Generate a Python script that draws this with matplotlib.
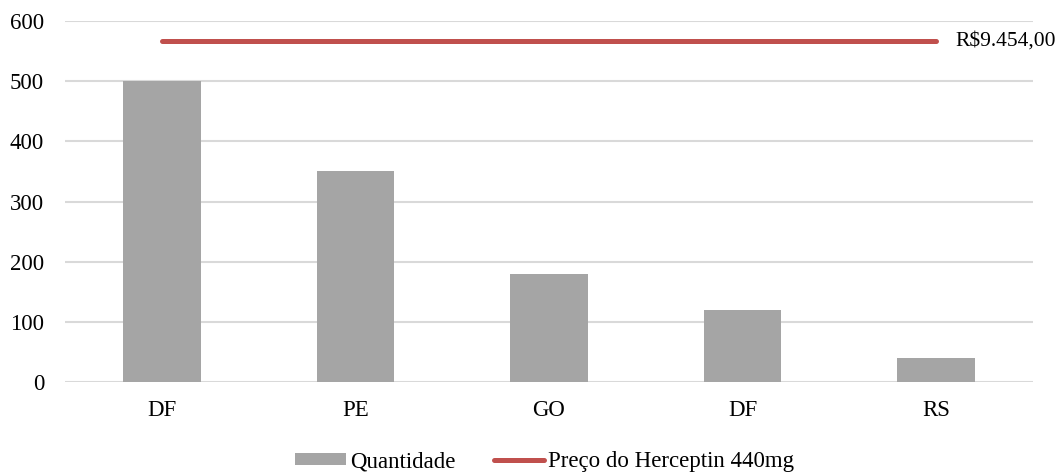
import matplotlib
matplotlib.use("Agg")
import matplotlib.pyplot as plt
from matplotlib.patches import Patch
from matplotlib.lines import Line2D

categories = ["DF", "PE", "GO", "DF", "RS"]
quantidade = [500, 350, 180, 120, 40]
preco_level = [566, 566, 566, 566, 566]
preco_label = "R$9.454,00"
yticks = [0, 100, 200, 300, 400, 500, 600]

plt.rcParams['font.family'] = ['Liberation Serif', 'DejaVu Serif']

fig = plt.figure(figsize=(10.58, 4.74), dpi=100)
ax = fig.add_axes([65/1058, (474-382)/474, (1033-65)/1058, (382-21)/474])

x = list(range(len(categories)))
ax.bar(x, quantidade, width=0.4, color="#a5a5a5", zorder=2)
ax.plot(x, preco_level, color="#c0504d", linewidth=3.6, solid_capstyle="round", zorder=3)
ax.text(x[-1] + 0.1, preco_level[-1], preco_label, fontsize=15.5, va="center", ha="left")

ax.set_xlim(-0.5, len(categories) - 0.5)
ax.set_ylim(0, 600)
ax.set_yticks(yticks)
ax.set_xticks(x)
ax.set_xticklabels(categories)
ax.tick_params(axis="both", length=0, labelsize=16.5)
ax.tick_params(axis="y", pad=15)
ax.tick_params(axis="x", pad=13)
ax.grid(axis="y", color="#d9d9d9", linewidth=1.5, zorder=0)
ax.set_axisbelow(True)
for s in ax.spines.values():
    s.set_visible(False)

handles = [Patch(facecolor="#a5a5a5"),
           Line2D([0], [0], color="#c0504d", linewidth=3.6, solid_capstyle="round")]
fig.legend(handles, ["Quantidade", "Preço do Herceptin 440mg"], loc="lower center",
           bbox_to_anchor=(0.515, -0.04), ncol=2, frameon=False, fontsize=16.5,
           handlelength=2.2, handletextpad=0.17, columnspacing=1.7, handleheight=0.45)

fig.savefig("out.png", dpi=100)
